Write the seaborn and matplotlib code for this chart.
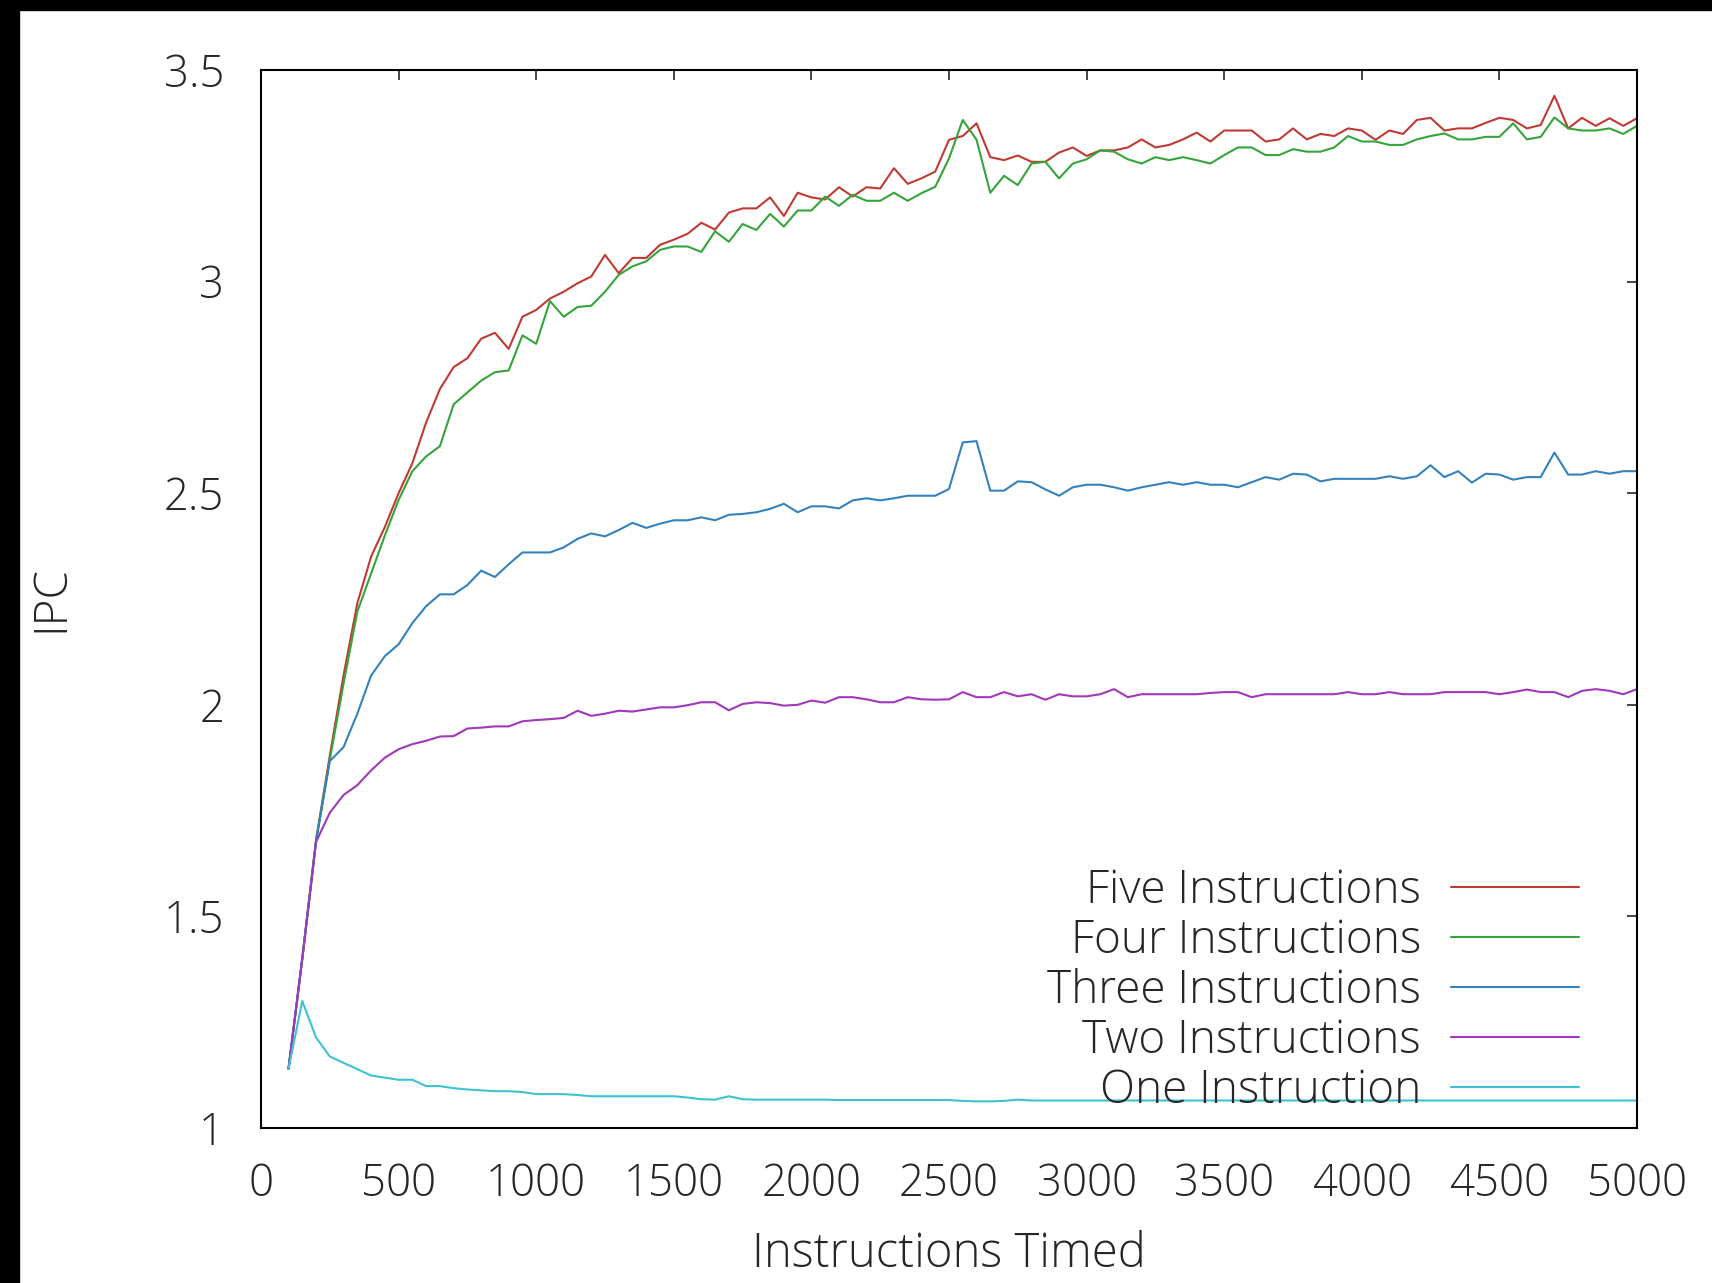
import numpy as np
import pandas as pd
import matplotlib
matplotlib.use('Agg')
import matplotlib.pyplot as plt
import seaborn as sns
from matplotlib.patches import Rectangle

# --- data (IPC every 50 instructions, 100..5000) ---
x_vals = list(range(100, 5001, 50))

five = [1.14, 1.40, 1.68, 1.88, 2.07, 2.24, 2.35, 2.42, 2.50, 2.571, 2.667, 2.746,
        2.798, 2.819, 2.865, 2.879, 2.841, 2.917, 2.933, 2.96, 2.976, 2.996, 3.012, 3.063,
        3.02, 3.056, 3.056, 3.087, 3.099, 3.113, 3.139, 3.123, 3.163, 3.173, 3.173, 3.199,
        3.155, 3.21, 3.199, 3.194, 3.223, 3.201, 3.223, 3.22, 3.268, 3.231, 3.244, 3.26,
        3.335, 3.344, 3.374, 3.294, 3.287, 3.298, 3.283, 3.283, 3.305, 3.317, 3.297, 3.31,
        3.31, 3.317, 3.336, 3.317, 3.323, 3.336, 3.352, 3.331, 3.357, 3.357, 3.357, 3.331,
        3.336, 3.362, 3.336, 3.349, 3.344, 3.362, 3.357, 3.335, 3.357, 3.349, 3.382, 3.387,
        3.357, 3.362, 3.362, 3.375, 3.387, 3.382, 3.362, 3.37, 3.439, 3.362, 3.387, 3.368,
        3.386, 3.368, 3.386]

four = [1.14, 1.40, 1.68, 1.87, 2.05, 2.22, 2.31, 2.40, 2.484, 2.552, 2.587, 2.611,
        2.71, 2.738, 2.766, 2.786, 2.79, 2.873, 2.853, 2.954, 2.917, 2.94, 2.943, 2.976,
        3.016, 3.036, 3.048, 3.075, 3.083, 3.083, 3.07, 3.119, 3.094, 3.136, 3.122, 3.16,
        3.13, 3.168, 3.168, 3.201, 3.179, 3.205, 3.191, 3.191, 3.21, 3.191, 3.209, 3.224,
        3.291, 3.382, 3.335, 3.21, 3.25, 3.228, 3.279, 3.283, 3.244, 3.279, 3.289, 3.31,
        3.307, 3.289, 3.279, 3.294, 3.287, 3.294, 3.287, 3.279, 3.299, 3.317, 3.317, 3.299,
        3.299, 3.313, 3.307, 3.307, 3.317, 3.344, 3.331, 3.331, 3.323, 3.323, 3.336, 3.344,
        3.35, 3.336, 3.336, 3.342, 3.342, 3.374, 3.336, 3.342, 3.388, 3.362, 3.357, 3.357,
        3.362, 3.349, 3.368]

three = [1.14, 1.40, 1.676, 1.867, 1.90, 1.979, 2.069, 2.115, 2.143, 2.193, 2.233, 2.261,
         2.261, 2.283, 2.317, 2.302, 2.332, 2.36, 2.36, 2.36, 2.372, 2.392, 2.405, 2.398,
         2.413, 2.43, 2.418, 2.428, 2.436, 2.436, 2.443, 2.436, 2.449, 2.451, 2.455, 2.463,
         2.475, 2.455, 2.469, 2.469, 2.464, 2.483, 2.488, 2.483, 2.488, 2.494, 2.494, 2.494,
         2.51, 2.62, 2.623, 2.506, 2.506, 2.528, 2.526, 2.509, 2.494, 2.514, 2.52, 2.52,
         2.514, 2.506, 2.514, 2.52, 2.526, 2.52, 2.526, 2.52, 2.52, 2.514, 2.526, 2.538,
         2.532, 2.546, 2.544, 2.528, 2.534, 2.534, 2.534, 2.534, 2.54, 2.534, 2.54, 2.566,
         2.538, 2.552, 2.525, 2.546, 2.544, 2.532, 2.538, 2.538, 2.596, 2.544, 2.544, 2.552,
         2.546, 2.552, 2.552]

two = [1.14, 1.40, 1.676, 1.745, 1.787, 1.81, 1.845, 1.875, 1.895, 1.907, 1.915, 1.925,
       1.926, 1.944, 1.946, 1.949, 1.949, 1.961, 1.964, 1.966, 1.969, 1.986, 1.974, 1.979,
       1.986, 1.984, 1.989, 1.994, 1.994, 1.999, 2.006, 2.006, 1.987, 2.002, 2.006, 2.004,
       1.998, 2.0, 2.01, 2.005, 2.018, 2.018, 2.013, 2.006, 2.006, 2.018, 2.013, 2.012,
       2.013, 2.03, 2.018, 2.018, 2.03, 2.02, 2.025, 2.012, 2.025, 2.02, 2.02, 2.025,
       2.037, 2.018, 2.025, 2.025, 2.025, 2.025, 2.025, 2.028, 2.03, 2.03, 2.018, 2.025,
       2.025, 2.025, 2.025, 2.025, 2.025, 2.03, 2.025, 2.025, 2.03, 2.025, 2.025, 2.025,
       2.03, 2.03, 2.03, 2.03, 2.025, 2.03, 2.036, 2.03, 2.03, 2.018, 2.033, 2.037,
       2.033, 2.025, 2.037]

one = [1.14, 1.30, 1.214, 1.169, 1.154, 1.139, 1.124, 1.119, 1.114, 1.114, 1.099, 1.099,
       1.094, 1.091, 1.089, 1.087, 1.087, 1.085, 1.08, 1.08, 1.08, 1.078, 1.075, 1.075,
       1.075, 1.075, 1.075, 1.075, 1.075, 1.072, 1.068, 1.067, 1.075, 1.068, 1.067, 1.067,
       1.067, 1.067, 1.067, 1.067, 1.066, 1.066, 1.066, 1.066, 1.066, 1.066, 1.066, 1.066,
       1.066, 1.064, 1.063, 1.063, 1.064, 1.067, 1.065, 1.065, 1.065, 1.065, 1.065, 1.065,
       1.065, 1.065, 1.065, 1.065, 1.065, 1.065, 1.065, 1.065, 1.065, 1.065, 1.065, 1.065,
       1.065, 1.065, 1.065, 1.065, 1.065, 1.065, 1.065, 1.065, 1.065, 1.065, 1.065, 1.065,
       1.065, 1.065, 1.065, 1.065, 1.065, 1.065, 1.065, 1.065, 1.065, 1.065, 1.065, 1.065,
       1.065, 1.065, 1.065]

labels = ['Five Instructions', 'Four Instructions', 'Three Instructions',
          'Two Instructions', 'One Instruction']
colors = ['#c03a34', '#35a43a', '#3482bd', '#a038bb', '#3cc2d0']

frames = []
for lab, vals in zip(labels, [five, four, three, two, one]):
    frames.append(pd.DataFrame({'x': x_vals, 'ipc': vals, 'series': lab}))
df = pd.concat(frames, ignore_index=True)

# --- style ---
sns.set_style('white')
plt.rcParams['font.family'] = ['Open Sans', 'DejaVu Sans']
plt.rcParams['font.weight'] = 'light'
plt.rcParams['axes.labelweight'] = 'light'
plt.rcParams['font.size'] = 31.5
plt.rcParams['text.color'] = '#262626'
plt.rcParams['axes.labelcolor'] = '#262626'
plt.rcParams['xtick.color'] = '#262626'
plt.rcParams['ytick.color'] = '#262626'

fig = plt.figure(figsize=(17.12, 12.83), dpi=100)
ax = fig.add_axes([261 / 1712, 1 - 1128 / 1283, 1376 / 1712, 1058 / 1283])

sns.lineplot(data=df, x='x', y='ipc', hue='series', hue_order=labels,
             palette=colors, estimator=None, sort=False, linewidth=1.5, ax=ax)

ax.set_xlim(0, 5000)
ax.set_ylim(1, 3.5)
ax.set_xticks(np.arange(0, 5001, 500))
ax.set_yticks([1, 1.5, 2, 2.5, 3, 3.5])
ax.set_yticklabels(['1', '1.5', '2', '2.5', '3', '3.5'])
ax.tick_params(axis='both', direction='in', length=7, width=1.2,
               top=True, right=True, labelsize=31.5)
ax.tick_params(axis='x', pad=25)
ax.tick_params(axis='y', pad=26.5)
for sp in ax.spines.values():
    sp.set_linewidth(1.5)
    sp.set_color('black')

ax.set_xlabel('Instructions Timed', fontsize=34, fontweight='light')
ax.set_ylabel('IPC', fontsize=33, fontweight='light')
ax.xaxis.label.set_va('center')
ax.yaxis.label.set_va('center')
ax.xaxis.set_label_coords(0.5, -0.1195)
ax.yaxis.set_label_coords(-0.152, 0.5)

# gnuplot-like key: text right-aligned, sample line after it
handles, _ = ax.get_legend_handles_labels()
leg = ax.legend(handles, labels, loc='lower right', bbox_to_anchor=(0.958, 0.013),
                frameon=False, markerfirst=False, fontsize=33, handlelength=2.8,
                handletextpad=0.65, labelspacing=0.09, borderpad=0, borderaxespad=0)

# black strips on the left and top edges of the original image
fig.patches.append(Rectangle((0, 0), 19 / 1712, 1, transform=fig.transFigure,
                             color='black', zorder=10))
fig.patches.append(Rectangle((0, 1 - 10 / 1283), 1, 10 / 1283, transform=fig.transFigure,
                             color='black', zorder=10))

fig.savefig('out.png', dpi=100, facecolor='white')
